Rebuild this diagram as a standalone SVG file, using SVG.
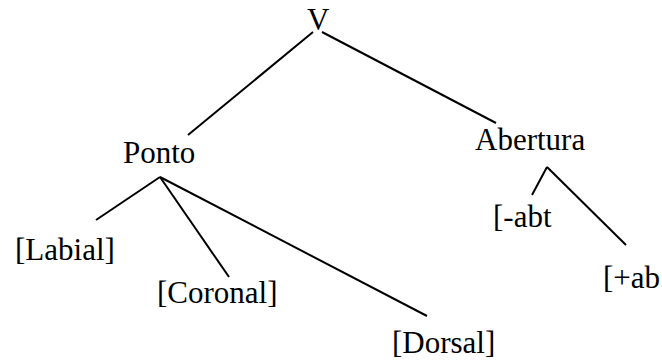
<svg xmlns="http://www.w3.org/2000/svg" width="662" height="360" viewBox="0 0 662 360">
<style>
text{font-family:"Liberation Serif","Times New Roman",serif;font-size:31px;fill:#000}
.c line{stroke:#000;stroke-width:2;stroke-linecap:butt}
</style>
<rect width="662" height="360" fill="#fff"/>
<g class="c" id="connectors">
<line x1="313" y1="32" x2="188" y2="135"/>
<line x1="322" y1="32" x2="496" y2="123"/>
<line x1="160" y1="177" x2="96" y2="220"/>
<line x1="160" y1="177" x2="229" y2="277"/>
<line x1="160" y1="177" x2="427" y2="316"/>
<line x1="547" y1="167" x2="532" y2="195"/>
<line x1="547" y1="167" x2="626" y2="245"/>
</g>
<g id="V"><text x="307" y="30">V</text></g>
<g id="Ponto"><text x="123" y="163">Ponto</text></g>
<g id="Abertura"><text x="475" y="150">Abertura</text></g>
<g id="Labial"><text x="15" y="260">[Labial]</text></g>
<g id="Coronal"><text x="157" y="303">[Coronal]</text></g>
<g id="Dorsal"><text x="392" y="353">[Dorsal]</text></g>
<g id="minus-abt"><text x="493" y="227">[-abt</text></g>
<g id="plus-ab"><text x="603" y="288">[+ab</text></g>
</svg>
